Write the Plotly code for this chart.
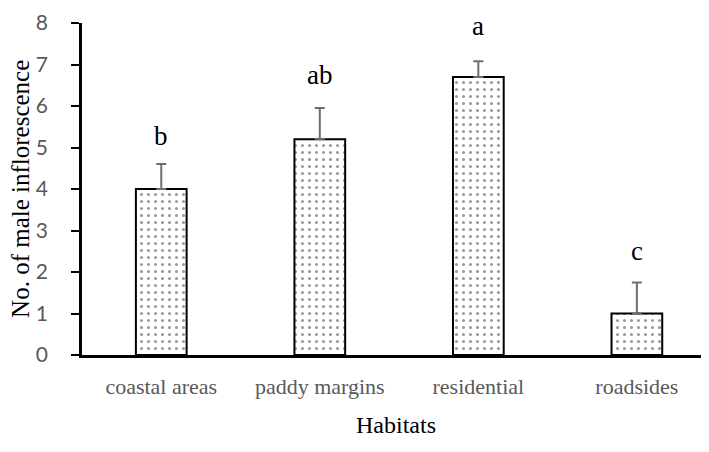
import plotly.graph_objects as go

habitats = ["coastal areas", "paddy margins", "residential", "roadsides"]
means = [4.0, 5.2, 6.7, 1.0]
errors = [0.6, 0.75, 0.38, 0.75]
letters = ["b", "ab", "a", "c"]
letter_y = [5.28, 6.75, 7.93, 2.5]
y_ticks = [0, 1, 2, 3, 4, 5, 6, 7, 8]

serif = "Liberation Serif"

fig = go.Figure()
fig.add_trace(go.Bar(
    x=habitats, y=means, width=0.32,
    marker=dict(
        color="white",
        line=dict(color="black", width=2),
        pattern=dict(shape=".", size=7, solidity=0.15, fgcolor="#333333", bgcolor="white"),
    ),
    error_y=dict(type="data", array=errors, symmetric=False, arrayminus=[0]*4,
                 color="#6e6e6e", thickness=2, width=5),
    showlegend=False,
))

for h, t, yy in zip(habitats, letters, letter_y):
    fig.add_annotation(x=h, y=yy, text=t, showarrow=False,
                       font=dict(family=serif, size=27, color="black"),
                       xanchor="center", yanchor="middle")

fig.add_annotation(xref="paper", yref="paper", x=0.5, y=-0.21, text="Habitats",
                   showarrow=False, xanchor="center", yanchor="middle",
                   font=dict(family=serif, size=24, color="black"))
fig.add_annotation(xref="paper", yref="paper", x=-0.099, y=0.5, text="No. of male inflorescence",
                   showarrow=False, xanchor="center", yanchor="middle", textangle=-90,
                   font=dict(family=serif, size=25, color="black"))

fig.update_layout(
    width=709, height=452,
    margin=dict(l=74, r=8, t=15, b=105),
    paper_bgcolor="white", plot_bgcolor="white",
)
fig.update_xaxes(
    range=[-0.5, 3.455], showline=True, linecolor="black", linewidth=3,
    ticks="", showgrid=False, automargin=False,
    tickfont=dict(family=serif, size=22, color="#595959"),
    ticklabelstandoff=10,
)
fig.update_yaxes(
    range=[0, 8], tickvals=y_ticks, showline=True, linecolor="black", linewidth=2.5,
    ticks="outside", ticklen=8, tickwidth=2, tickcolor="black", showgrid=False, zeroline=False,
    automargin=False,
    tickfont=dict(family="Lato", size=21, color="#595959"),
    ticklabelstandoff=19,
)

fig.write_html("out.html")
